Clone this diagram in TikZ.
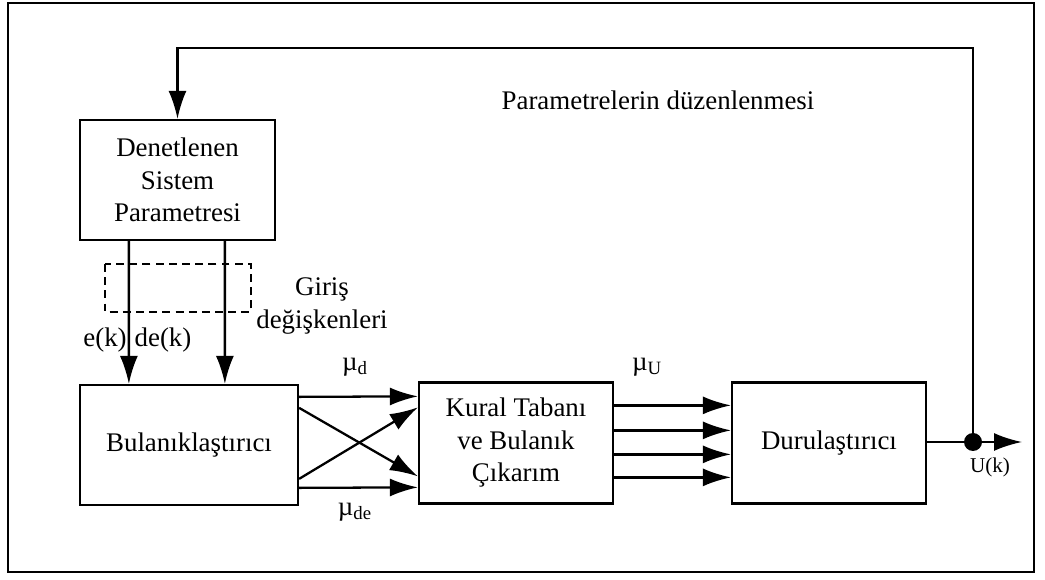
\documentclass[tikz,border=0pt]{standalone}
\usepackage{fontspec}
\setmainfont{Liberation Serif}
\usetikzlibrary{arrows.meta,calc}

\begin{document}
\begin{tikzpicture}[x=0.02cm, y=-0.02cm,
  font=\fontsize{15.3}{18.5}\selectfont,
  blok/.style={draw, line width=1.3pt, rectangle, align=center, inner sep=2pt},
  ok/.style={line width=1.3pt, -{Latex[length=0.56cm,width=0.36cm]}},
  etiket/.style={inner sep=1pt}]
\useasboundingbox (0,0) rectangle (1045,580);
% cerceve
\draw[line width=0.9pt] (8,3) rectangle (1034,572);
% bloklar
\node[blok, minimum width=3.9cm, minimum height=2.4cm] (den) at (177.5,180)
  {Denetlenen\\Sistem\\Parametresi};
\node[blok, minimum width=4.36cm, minimum height=2.4cm] (bul) at (189,445)
  {Bulanıklaştırıcı};
\node[blok, minimum width=3.88cm, minimum height=2.42cm] (kur) at (516,443)
  {Kural Tabanı\\ve Bulanık\\Çıkarım};
\node[blok, minimum width=3.88cm, minimum height=2.42cm] (dur) at (829,443)
  {Durulaştırıcı};
% giris degiskenleri
\draw[ok] ($(den.south west)+(50,0)$) -- ($(bul.north west)+(50,0)$);
\draw[ok] ($(den.south west)+(146,0)$) -- ($(bul.north west)+(146,0)$);
\draw[line width=1.1pt, dash pattern=on 4.5pt off 3pt] (105,264) rectangle (251,312);
\node[etiket, align=center] (giris) at (322,306) {Giriş\\değişkenleri};
\node[etiket] (ek) at (105,340) {e(k)};
\node[etiket] (dek) at (163,340) {de(k)};
% bulaniklastirici -> kural tabani
\draw[ok] ($(bul.north east)+(0,13)$) -- ($(kur.north west)+(0,15)$);
\draw[ok] ($(bul.north east)+(0,104)$) -- ($(kur.north west)+(0,106)$);
\draw[ok] ($(bul.north east)+(0,24)$) -- ($(kur.north west)+(0,95)$);
\draw[ok] ($(bul.north east)+(0,95)$) -- ($(kur.north west)+(0,26)$);
\node[etiket] (mud) at (355,367) {µ\textsubscript{d}};
\node[etiket] (mude) at (355,512) {µ\textsubscript{de}};
% kural tabani -> durulastirici
\foreach \dy in {24,49,73,96}
  \draw[ok] ($(kur.north east)+(0,\dy)$) -- ($(dur.north west)+(0,\dy)$);
\node[etiket] (muu) at (647,367) {µ\textsubscript{U}};
% cikis ve geri besleme
\node[circle, fill, inner sep=0pt, minimum size=0.36cm] (dot) at (973,442) {};
\coordinate (cikis) at (1022,442);
\coordinate (fbust) at (973,48);
\draw[ok] (dur.east |- dot) -- (cikis);
\draw[ok] (dot.center) -- (fbust) -| (den.north);
\node[etiket, font=\fontsize{12}{14}\selectfont] (uk) at (990,467) {U(k)};
\node[etiket] (param) at (658,100) {Parametrelerin düzenlenmesi};
\end{tikzpicture}
\end{document}
